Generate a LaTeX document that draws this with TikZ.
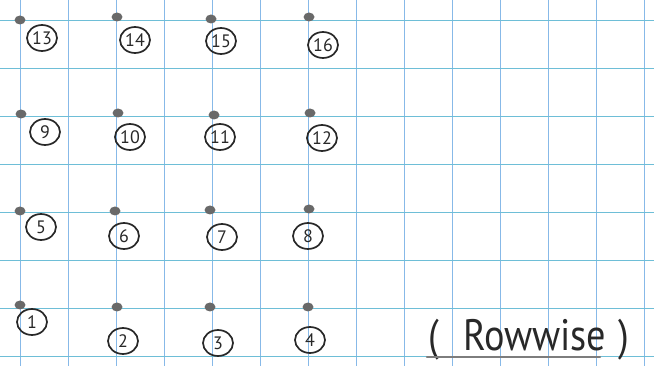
\documentclass[tikz,border=0pt]{standalone}
\usepackage{graphicx}
\usepackage{fontspec}
\setmainfont{PT Sans}
\usetikzlibrary{shapes.geometric}
\definecolor{gridblue}{RGB}{135,185,232}
\definecolor{gridcyan}{RGB}{110,190,215}
\definecolor{pencil}{RGB}{40,40,40}
\definecolor{dotgrey}{RGB}{105,105,105}
\definecolor{ulgrey}{RGB}{125,125,125}
\tikzset{
  vpaper/.style={gridblue, line width=1pt},
  hpaper/.style={gridcyan, line width=1pt},
  pin/.style={ellipse, fill=dotgrey, minimum width=11pt, minimum height=9pt, inner sep=0pt},
  num/.style={ellipse, draw=pencil, line width=1.7pt, minimum width=30pt, minimum height=26pt, inner sep=0pt, text=pencil, font=\fontsize{18}{18}\selectfont},
  label/.style={text=pencil, font=\fontsize{44}{44}\selectfont},
}
\begin{document}
\begin{tikzpicture}[x=1pt,y=-1pt]
\useasboundingbox (0,0) rectangle (654,366);
\fill[white] (0,0) rectangle (654,366);
% graph paper
\foreach \i in {0,...,13} \draw[vpaper] (20+48*\i,0) -- (20+48*\i,366);
\foreach \j in {0,...,7} \draw[hpaper] (0,21+48*\j) -- (654,21+48*\j);
% dots
\node[pin] (d13) at (20,20) {};
\node[pin] (d14) at (117,17) {};
\node[pin] (d15) at (211,19) {};
\node[pin] (d16) at (309,17) {};
\node[pin] (d9) at (21,114) {};
\node[pin] (d10) at (118,113) {};
\node[pin] (d11) at (214,115) {};
\node[pin] (d12) at (310,113) {};
\node[pin] (d5) at (20,211) {};
\node[pin] (d6) at (115,211) {};
\node[pin] (d7) at (210,210) {};
\node[pin] (d8) at (309,209) {};
\node[pin] (d1) at (20,305) {};
\node[pin] (d2) at (117,307) {};
\node[pin] (d3) at (210,307) {};
\node[pin] (d4) at (308,307) {};
% numbers
\node[num] (n13) at (42,38) {13};
\node[num] (n14) at (135,40) {14};
\node[num] (n15) at (221,41) {15};
\node[num] (n16) at (323,45) {16};
\node[num] (n9) at (45,132) {9};
\node[num] (n10) at (130,137) {10};
\node[num] (n11) at (220,137) {11};
\node[num] (n12) at (322,138) {12};
\node[num] (n5) at (41,227) {5};
\node[num] (n6) at (124,236) {6};
\node[num] (n7) at (222,237) {7};
\node[num] (n8) at (308,236) {8};
\node[num] (n1) at (32,322) {1};
\node[num] (n2) at (123,341) {2};
\node[num] (n3) at (218,343) {3};
\node[num] (n4) at (310,340) {4};
% caption
\node[label, anchor=base west, inner sep=0pt] (cap) at (428,351) {\scalebox{0.87}[1]{(\hspace{28pt}Rowwise\hspace{14pt})}};
\coordinate (ul1) at (427,357);
\coordinate (ul2) at (600,357);
\draw[ulgrey, line width=2.4pt, line cap=round] (ul1) -- (ul2);
\end{tikzpicture}
\end{document}
